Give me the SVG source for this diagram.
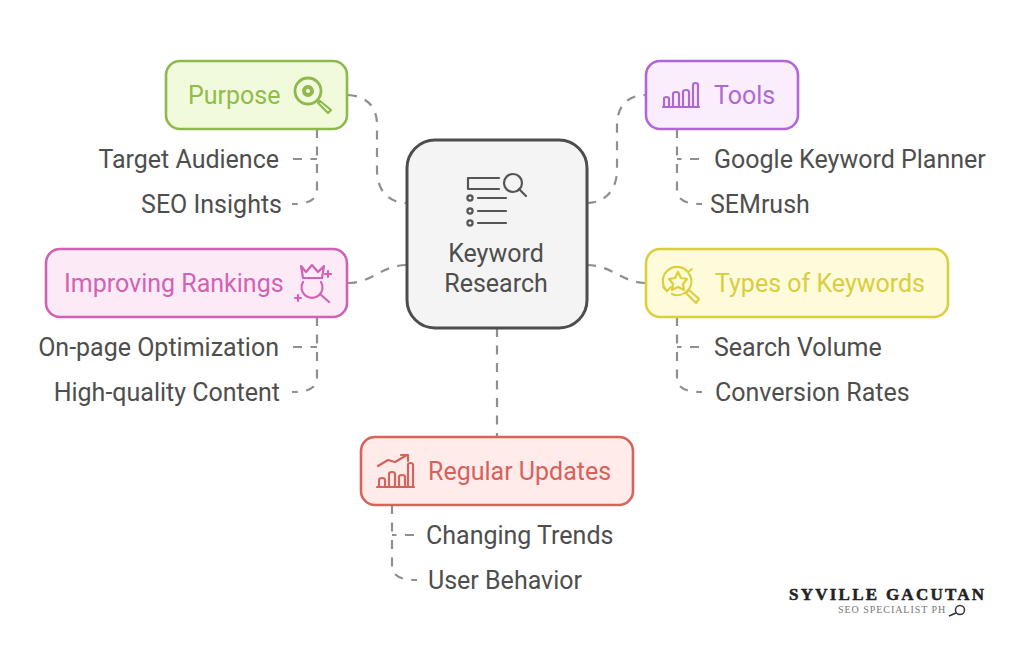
<svg xmlns="http://www.w3.org/2000/svg" width="1024" height="656" viewBox="0 0 1024 656">
<style>
text{font-family:Roboto,"Liberation Sans",sans-serif;font-size:25px}
.l{fill:#4e4e4e}
.c{fill:none;stroke:#8f8f8f;stroke-width:2.2;stroke-dasharray:9 8.500}
.i{fill:none;stroke-width:2.2;stroke-linecap:round;stroke-linejoin:round}
.b{stroke-width:2.6}
</style>
<rect width="1024" height="656" fill="#fff"/>
<g id="connectors">
<path class="c" d="M348 95C366 96 377 106 377 125V170C377 190 388 203 407 203"/>
<path class="c" d="M587 203C605 203 617 190 617 170V125C617 106 628 95 646 95"/>
<path class="c" d="M348 283C372 283 382 265 407 265"/>
<path class="c" d="M587 265C612 265 622 283 646 283"/>
<path class="c" d="M497 328V437"/>
<path class="c" d="M317 129V190C317 199 310 204 292 204"/>
<path class="c" d="M293 159H317"/>
<path class="c" d="M677 129V190C677 199 684 204 702 204"/>
<path class="c" d="M699 159H677"/>
<path class="c" d="M317 317V378C317 387 310 392 292 392"/>
<path class="c" d="M293 347H317"/>
<path class="c" d="M677 317V378C677 387 684 392 702 392"/>
<path class="c" d="M699 347H677"/>
<path class="c" d="M392 505V566C392 575 399 580 417 580"/>
<path class="c" d="M414 535H392"/>
</g>
<g id="node-center">
<rect x="407" y="140" width="180" height="188" rx="28" fill="#f4f4f4" stroke="#4d4d4d" stroke-width="3"/>
<g class="i" stroke="#555">
<path d="M499 178H468V189H499"/>
<circle cx="513" cy="183" r="9"/>
<path d="M519 189L526 196"/>
<circle cx="470" cy="198" r="2.600"/><path d="M478 198H506"/>
<circle cx="470" cy="211" r="2.600"/><path d="M478 211H506"/>
<circle cx="470" cy="223" r="2.600"/><path d="M478 223H506"/>
</g>
<text class="l" x="496" y="262" text-anchor="middle">Keyword</text>
<text class="l" x="496" y="292" text-anchor="middle">Research</text>
</g>
<g id="node-purpose">
<rect class="b" x="166" y="61" width="181" height="68" rx="14" fill="#f1fbdc" stroke="#8fb84e"/>
<text x="188" y="104" fill="#8fbc4a">Purpose</text>
<g class="i" stroke="#8fb84e">
<circle cx="308" cy="91" r="13" stroke-width="2.800"/>
<circle cx="308" cy="91" r="4" stroke-dasharray="2.500 1.500" stroke-width="4"/>
<path d="M318 100L320 102M320 101L331 110L328 113L318 103Z"/>
</g>
</g>
<g id="node-tools">
<rect class="b" x="646" y="61" width="152" height="68" rx="14" fill="#faeefd" stroke="#b266d6"/>
<text x="714" y="104" fill="#b067d2">Tools</text>
<g class="i" stroke="#b067d2">
<path d="M663 107H699"/>
<path d="M664 107V99Q664 97 666.500 97Q669 97 669 99V107M673 107V94Q673 92 676 92Q679 92 679 94V107M683 107V92Q683 90 686 90Q689 90 689 92V107M693 107V85Q693 83 695.500 83Q698 83 698 85V107"/>
</g>
</g>
<g id="node-rankings">
<rect class="b" x="46" y="249" width="301" height="68" rx="14" fill="#fdeaf7" stroke="#cf62b4"/>
<text x="64" y="292" fill="#d262b5">Improving Rankings</text>
<g class="i" stroke="#d262b5">
<path d="M301 266L306 272L312 265L318 272L324 266L322 278H303Z"/>
<path d="M303 282A10.500 10.500 0 1 0 321 282"/>
<path d="M320 294L329 302"/>
<path d="M325 274H331M328 271V277M295 298H301M298 295V301"/>
</g>
</g>
<g id="node-types">
<rect class="b" x="646" y="249" width="302" height="68" rx="14" fill="#fdfbd9" stroke="#dccf3f"/>
<text x="715" y="292" fill="#dbcd3c">Types of Keywords</text>
<g class="i" stroke="#dccf3f">
<path d="M667 291A14 14 0 0 1 687 271M690 275A14 14 0 0 1 672 294"/>
<path d="M663 287L667 291L671 287M692 269L688 272L690 276" stroke-width="2"/>
<path d="M678 272L681 278L687 279L683 284L684 290L678 287L672 290L673 284L669 279L675 278Z"/>
<path d="M689 290L699 299L696 303L686 293Z"/>
</g>
</g>
<g id="node-updates">
<rect class="b" x="361" y="437" width="272" height="68" rx="14" fill="#ffecea" stroke="#d9625a"/>
<text x="428" y="480" fill="#d7625b">Regular Updates</text>
<g class="i" stroke="#d7625b">
<path d="M377 487H414"/>
<path d="M379 487V480Q379 478 382 478Q385 478 385 480V487M389 487V474Q389 472 392 472Q395 472 395 474V487M399 487V477Q399 475 402 475Q405 475 405 477V487M408 487V465Q408 463 410.500 463Q413 463 413 465V487"/>
<path d="M378 466L388 460L395 462L407 455M401 455H408V461"/>
</g>
</g>
<g id="items">
<text class="l" x="279" y="168" text-anchor="end">Target Audience</text>
<text class="l" x="282" y="213" text-anchor="end">SEO Insights</text>
<text class="l" x="714" y="168">Google Keyword Planner</text>
<text class="l" x="710" y="213">SEMrush</text>
<text class="l" x="279" y="356" text-anchor="end">On-page Optimization</text>
<text class="l" x="280" y="401" text-anchor="end">High-quality Content</text>
<text class="l" x="714" y="356">Search Volume</text>
<text class="l" x="715" y="401">Conversion Rates</text>
<text class="l" x="426" y="544">Changing Trends</text>
<text class="l" x="428" y="589">User Behavior</text>
</g>
<g id="logo">
<text x="789" y="600" style="font-family:'Liberation Serif',serif;font-size:17px;font-weight:700;letter-spacing:2.250px;stroke:#222;stroke-width:.5px" fill="#222">SYVILLE GACUTAN</text>
<text x="838" y="613" style="font-family:'Liberation Serif',serif;font-size:10px;letter-spacing:.95px" fill="#777">SEO SPECIALIST PH</text>
<circle cx="960" cy="610" r="4.500" fill="none" stroke="#333" stroke-width="1.500"/>
<path d="M956 613L949 616" stroke="#333" stroke-width="1.500" fill="none"/>
</g>
</svg>
